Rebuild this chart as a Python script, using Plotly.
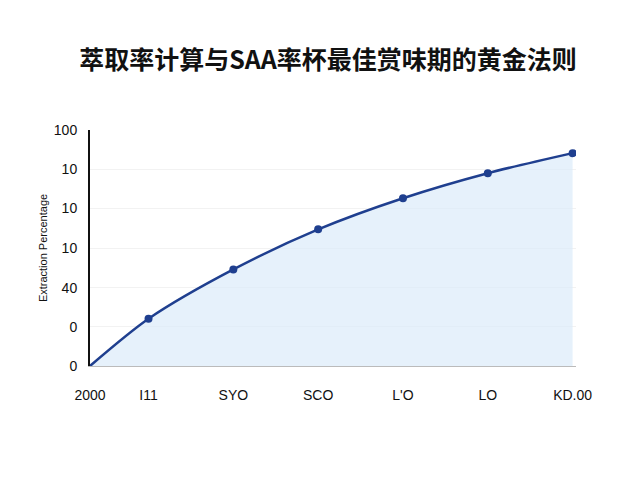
import plotly.graph_objects as go

title = "<b>萃取率计算与SAA率杯最佳赏味期的黄金法则</b>"
x_pos = [0.31, 1, 2, 3, 4, 5, 6]
x_labels = ["2000", "I11", "SYO", "SCO", "L'O", "LO", "KD.00"]
y_values = [0, 20, 40.9, 57.9, 71.1, 81.7, 90.2]
y_tickvals = [0, 16.6, 33.2, 49.8, 66.8, 83.4, 100]
y_ticktext = ["0", "0", "40", "10", "10", "10", "100"]
y_title = "Extraction Percentage"

fig = go.Figure()
fig.add_trace(go.Scatter(
    x=x_pos, y=y_values, mode="lines", line=dict(color="#1f3f8f", width=2.5, shape="spline", smoothing=0.8),
    fill="tozeroy", fillcolor="rgba(220,235,250,0.7)", hoverinfo="skip"))
fig.add_trace(go.Scatter(
    x=x_pos[1:], y=y_values[1:], mode="markers",
    marker=dict(color="#1f3f8f", size=8)))

fig.update_layout(
    width=640, height=480, showlegend=False,
    plot_bgcolor="white", paper_bgcolor="white",
    font=dict(family="Liberation Sans, Noto Sans CJK SC", size=14, color="#111"),
    title=dict(text=title, x=0.5, y=0.91, xanchor="center",
               font=dict(family="Noto Sans CJK SC", size=25, color="#111")),
    margin=dict(l=82, r=72, t=122, b=122),
    xaxis=dict(tickvals=x_pos, ticktext=x_labels, range=[0.31, 6.04], showgrid=False,
               showline=True, linecolor="#bbb", ticks="outside", ticklen=16,
               tickcolor="rgba(0,0,0,0)", tickfont=dict(size=14), automargin=False),
    yaxis=dict(tickvals=y_tickvals, ticktext=y_ticktext, range=[0, 100], showgrid=True,
               gridcolor="#f2f2f2", showline=True, linecolor="#111", linewidth=2,
               ticks="outside", ticklen=8, tickcolor="rgba(0,0,0,0)", automargin=False,
               title=dict(text=y_title, font=dict(size=11), standoff=4)),
)
fig.write_html("out.html")
